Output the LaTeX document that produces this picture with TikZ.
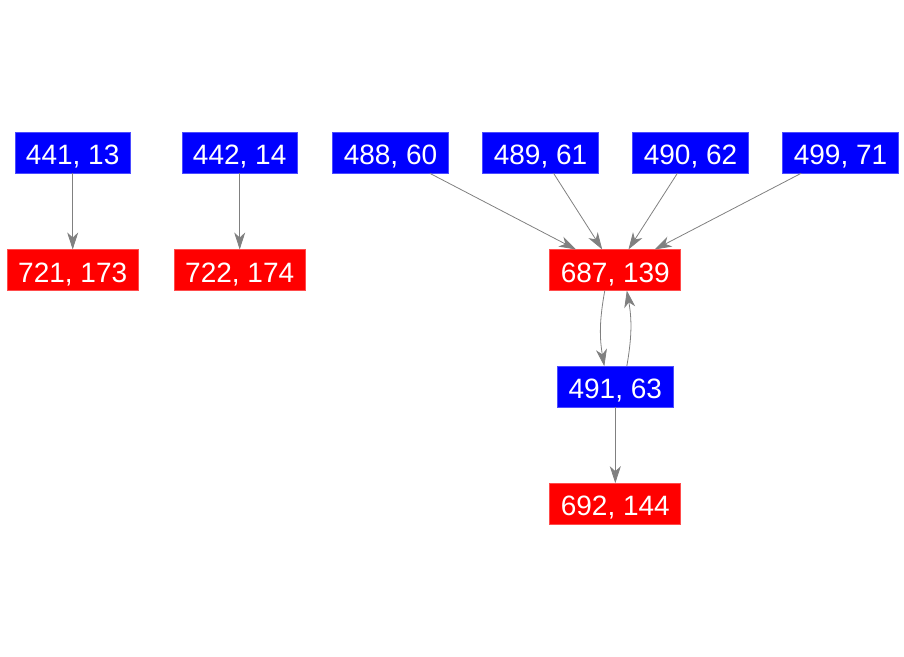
\documentclass[tikz,border=0pt]{standalone}
\usepackage{fontspec}
\setmainfont{Liberation Sans}
\usetikzlibrary{arrows.meta}
\definecolor{edgegray}{RGB}{128,128,128}
\definecolor{bluebox}{RGB}{0,0,255}
\definecolor{redbox}{RGB}{255,0,0}
\tikzset{
  vbox/.style={font=\fontsize{28pt}{30pt}\selectfont, text=white, inner xsep=11pt, inner ysep=0pt,
    minimum height=41pt, text height=24pt, text depth=0pt, outer sep=0pt, line width=0.7pt},
  bluenode/.style={vbox, fill=bluebox, draw=bluebox!70!white},
  rednode/.style={vbox, fill=redbox, draw=redbox!70!white},
  edge/.style={draw=edgegray, line width=0.8pt, -{Stealth[length=17pt,width=11pt,inset=5pt]}}
}
\begin{document}
\begin{tikzpicture}[x=1pt,y=1pt]
\useasboundingbox (0,0) rectangle (904,-656);
\node[bluenode] (a441) at (72.7,-152.8) {441, 13};
\node[bluenode] (a442) at (239.7,-152.8) {442, 14};
\node[bluenode] (a488) at (390.5,-152.8) {488, 60};
\node[bluenode] (a489) at (540.5,-152.8) {489, 61};
\node[bluenode] (a490) at (690.5,-152.8) {490, 62};
\node[bluenode] (a499) at (840.5,-152.8) {499, 71};
\node[rednode] (b721) at (72.7,-270) {721, 173};
\node[rednode] (b722) at (239.7,-270) {722, 174};
\node[rednode] (b687) at (615.3,-270) {687, 139};
\node[bluenode] (a491) at (615.3,-386.7) {491, 63};
\node[rednode] (b692) at (615.3,-503.7) {692, 144};
\draw[edge] (a441) -- (b721);
\draw[edge] (a442) -- (b722);
\draw[edge] (a488) -- (b687);
\draw[edge] (a489) -- (b687);
\draw[edge] (a490) -- (b687);
\draw[edge] (a499) -- (b687);
\draw[edge] ([xshift=-10.5pt]b687.south) to[bend right=10] ([xshift=-11pt]a491.north);
\draw[edge] ([xshift=11.5pt]a491.north) to[bend right=10] ([xshift=11.5pt]b687.south);
\draw[edge] (a491) -- (b692);
\end{tikzpicture}
\end{document}
